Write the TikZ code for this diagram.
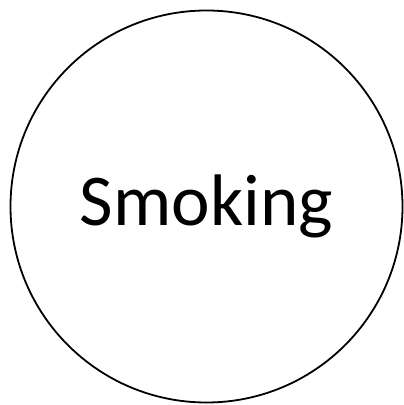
\documentclass[tikz,border=0pt]{standalone}
\usepackage{fontspec}
\setmainfont{Carlito}
\usetikzlibrary{positioning}
\tikzset{
  factor/.style={circle,draw=black,line width=1.8pt,minimum size=392pt,inner sep=0pt,
    font=\fontsize{73pt}{82pt}\selectfont}
}
\begin{document}
\begin{tikzpicture}[x=1pt,y=1pt]
  \useasboundingbox (0,0) rectangle (404,405);
  % the one factor
  \node[factor] (smoking) at (206.5,198.5) {\raisebox{-2pt}{Smoking}};
\end{tikzpicture}
\end{document}
